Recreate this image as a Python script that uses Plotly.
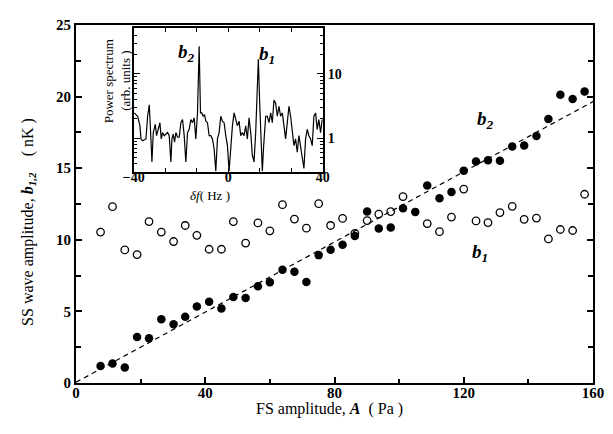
import plotly.graph_objects as go

# ---------------- main panel data ----------------
fs_amplitude = [7.6, 11.3, 15.1, 18.9, 22.6, 26.4, 30.2, 33.8, 37.4, 41.2,
                45.0, 48.7, 52.5, 56.3, 60.0, 63.9, 67.6, 71.3, 75.1, 78.8,
                82.5, 86.3, 90.1, 93.7, 97.4, 101.2, 105.0, 108.7, 112.5, 116.2,
                120.0, 123.8, 127.5, 131.2, 135.0, 138.7, 142.5, 146.2, 149.9, 153.7,
                157.4]
b2_values = [1.18, 1.36, 1.09, 3.22, 3.13, 4.45, 4.11, 4.63, 5.34, 5.68,
             5.20, 6.00, 5.93, 6.75, 7.04, 7.91, 7.77, 7.06, 8.93, 9.31,
             9.65, 10.27, 11.97, 10.79, 10.86, 12.20, 11.95, 13.79, 12.90, 13.33,
             14.83, 15.47, 15.56, 15.52, 16.52, 16.59, 17.25, 18.43, 20.13, 19.84,
             20.36]
b1_values = [10.54, 12.31, 9.29, 8.97, 11.27, 10.54, 9.88, 11.00, 10.31, 9.34,
             9.34, 11.27, 9.77, 11.18, 10.63, 12.45, 11.45, 10.81, 12.52, 11.00,
             11.49, 10.45, 11.34, 11.79, 11.97, 13.02, None, 11.13, 10.57, 11.59,
             13.54, 11.32, 11.20, 11.90, 12.34, 11.43, 11.52, 10.06, 10.72, 10.65,
             13.18]
fit_slope = 0.1225
fit_intercept = 0.05
fit_x = [0, 160]
fit_y = [fit_slope * x + fit_intercept for x in fit_x]

# ---------------- inset spectrum data ----------------
spec_freq = [-39.72, -38.31, -37.33, -36.91, -36.20, -34.80, -34.09, -33.39, -32.69, -32.27,
             -31.70, -30.86, -30.30, -29.46, -28.89, -28.33, -27.77, -27.07, -26.36, -25.66,
             -24.96, -24.25, -23.83, -23.27, -22.71, -22.14, -21.44, -20.74, -20.04, -19.33,
             -18.63, -17.93, -17.22, -16.52, -15.82, -15.11, -14.41, -13.71, -13.01, -12.30,
             -11.74, -11.18, -10.62, -10.05, -9.49, -8.79, -8.08, -7.38, -6.68, -5.98,
             -5.27, -4.57, -3.87, -3.16, -2.46, -1.76, -1.05, -0.35, 0.35, 1.05,
             1.76, 2.46, 3.16, 3.87, 4.57, 5.27, 5.98, 6.68, 7.38, 8.08,
             8.79, 9.49, 10.19, 10.90, 11.60, 12.16, 12.72, 13.29, 13.85, 14.41,
             14.97, 15.82, 16.52, 17.22, 17.93, 18.63, 19.33, 20.04, 20.74, 21.44,
             22.14, 22.85, 23.55, 24.25, 24.96, 25.66, 26.36, 27.07, 27.77, 28.47,
             29.18, 29.88, 30.58, 31.28, 31.99, 32.69, 33.39, 34.09, 34.80, 35.50,
             36.20, 36.91, 37.61, 38.31, 39.02, 39.72]
spec_power = [2.48, 2.20, 1.56, 0.98, 0.92, 0.98, 2.20, 3.31, 0.98, 0.43,
              1.23, 1.65, 1.10, 1.38, 1.75, 0.98, 1.23, 1.10, 1.16, 1.23,
              1.10, 0.43, 0.98, 1.16, 0.87, 1.23, 1.04, 1.04, 1.75, 1.96,
              1.10, 0.43, 1.23, 1.38, 1.96, 1.75, 2.08, 0.98, 2.48, 26.9,
              2.48, 2.48, 2.20, 2.34, 1.85, 1.75, 1.10, 1.10, 0.98, 0.69,
              0.31, 0.98, 1.23, 2.20, 1.85, 1.75, 1.10, 0.77, 0.31, 0.77,
              1.56, 2.48, 1.85, 1.56, 1.85, 1.10, 1.23, 1.10, 1.56, 0.98,
              2.08, 1.23, 0.55, 0.43, 1.23, 3.51, 16.9, 3.51, 0.77, 0.31,
              0.77, 2.20, 2.20, 1.75, 2.48, 1.75, 3.94, 3.51, 2.20, 3.13,
              2.20, 2.48, 1.56, 0.98, 1.75, 3.13, 2.20, 1.23, 0.77, 0.98,
              0.61, 1.10, 0.77, 0.49, 0.34, 0.98, 1.38, 1.10, 0.98, 0.77,
              2.20, 2.48, 1.38, 1.96, 1.23, 1.96]

inset_xlabels = [-40, 0, 40]
inset_xminor = [-80 / 3, -40 / 3, 40 / 3, 80 / 3]
inset_yminor = [0.4, 0.5, 0.6, 0.7, 0.8, 0.9, 2, 3, 4, 5, 6, 7, 8, 9, 20, 30, 40, 50]

SERIF = "Liberation Serif"

fig = go.Figure()

fig.add_trace(go.Scatter(x=fs_amplitude, y=b1_values, mode="markers",
                         marker=dict(symbol="circle-open", size=7.5, color="black",
                                     line=dict(width=1.3, color="black")),
                         showlegend=False))
fig.add_trace(go.Scatter(x=fit_x, y=fit_y, mode="lines",
                         line=dict(color="black", width=1.2, dash="5px,4px"),
                         showlegend=False))
fig.add_trace(go.Scatter(x=fs_amplitude, y=b2_values, mode="markers",
                         marker=dict(symbol="circle", size=8.5, color="black"),
                         showlegend=False))
fig.add_trace(go.Scatter(x=spec_freq, y=spec_power, mode="lines",
                         line=dict(color="black", width=1.2),
                         xaxis="x2", yaxis="y2", showlegend=False))

tickfont_main = dict(family=SERIF, size=15, color="black", weight="bold")
tickfont_inset = dict(family=SERIF, size=14, color="black", weight="bold")

# the page body has a default 8 px margin, so the figure is 8 px smaller
fig.update_layout(
    width=605, height=426,
    margin=dict(l=68, r=17, t=9, b=51),
    paper_bgcolor="white", plot_bgcolor="white",
    xaxis=dict(range=[0, 160], tick0=0, dtick=40, ticks="inside", ticklen=6,
               tickwidth=1.5, tickcolor="black", ticklabelstandoff=-5,
               minor=dict(dtick=20, ticks="inside", ticklen=4, tickwidth=1.5, tickcolor="black"),
               showline=True, linewidth=2, linecolor="black", mirror=True,
               showgrid=False, zeroline=False, tickfont=tickfont_main),
    yaxis=dict(range=[0, 25], tick0=0, dtick=5, ticks="inside", ticklen=6,
               tickwidth=1.5, tickcolor="black",
               minor=dict(dtick=2.5, ticks="inside", ticklen=5, tickwidth=1.5, tickcolor="black"),
               showline=True, linewidth=2, linecolor="black", mirror="ticks",
               showgrid=False, zeroline=False, tickfont=tickfont_main),
    xaxis2=dict(domain=[0.1115, 0.4775], anchor="y2", range=[-40, 40],
                tickmode="array", tickvals=inset_xlabels,
                ticks="inside", ticklen=4, tickwidth=1.2, tickcolor="black",
                ticklabelstandoff=-8,
                minor=dict(tickmode="array", tickvals=inset_xminor, ticks="inside",
                           ticklen=4, tickwidth=1.2, tickcolor="black"),
                showline=True, linewidth=2, linecolor="black", mirror="ticks",
                showgrid=False, zeroline=False, tickfont=tickfont_inset),
    yaxis2=dict(domain=[0.5907, 0.9907], anchor="x2", type="log",
                range=[-0.515, 1.707], side="right",
                tickmode="array", tickvals=[1, 10], ticktext=["1", "10"],
                ticks="inside", ticklen=6, tickwidth=1.2, tickcolor="black",
                minor=dict(tickmode="array", tickvals=inset_yminor, ticks="inside",
                           ticklen=3, tickwidth=1, tickcolor="black"),
                showline=True, linewidth=2, linecolor="black", mirror="ticks",
                showgrid=False, zeroline=False, tickfont=tickfont_inset),
)

def ann(text, x, y, size, angle=0):
    fig.add_annotation(text=text, x=x, y=y, xref="paper", yref="paper",
                       showarrow=False, textangle=angle,
                       font=dict(family=SERIF, size=size, color="black"),
                       xanchor="center", yanchor="middle")

ann("FS amplitude, <b><i>A</i></b>\u00a0\u00a0( Pa )", 0.4904, -0.0728, 16)
ann("SS wave amplitude, <b><i>b</i></b><sub><b><i>1,2</i></b></sub>\u00a0\u00a0\u00a0\u00a0( nK )",
    -0.0923, 0.4508, 16, -90)
ann("<b><i>b</i></b><sub><b><i>2</i></b></sub>", 0.792, 0.7345, 19)
ann("<b><i>b</i></b><sub><b><i>1</i></b></sub>", 0.781, 0.3636, 19)
ann("<b><i>b</i></b><sub><b><i>2</i></b></sub>", 0.2135, 0.9226, 19)
ann("<b><i>b</i></b><sub><b><i>1</i></b></sub>", 0.369, 0.917, 19)
ann("Power spectrum", 0.0625, 0.8435, 13, -90)
ann("(arb. units )", 0.0942, 0.8435, 13, -90)
ann("<i>δf</i>( Hz )", 0.2596, 0.5244, 13)

fig.write_html("out.html")
